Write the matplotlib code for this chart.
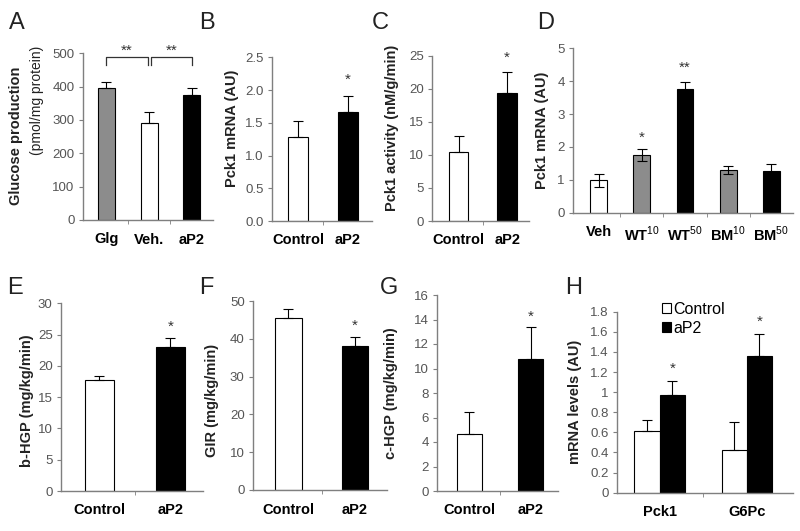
import numpy as np
import matplotlib
matplotlib.use('Agg')
import matplotlib.pyplot as plt

plt.rcParams['font.family'] = ['Liberation Sans', 'DejaVu Sans']
plt.rcParams['mathtext.fontset'] = 'custom'
plt.rcParams['mathtext.rm'] = 'Liberation Sans'
plt.rcParams['mathtext.bf'] = 'Liberation Sans:bold'

# ---- data ----
a_labels = ['Glg', 'Veh.', 'aP2']
a_vals = [395, 292, 376]
a_err = [20, 32, 21]

b_labels = ['Control', 'aP2']
b_vals = [1.28, 1.67]
b_err = [0.25, 0.24]

c_vals = [10.5, 19.3]
c_err = [2.4, 3.3]

d_labels = [r'$\mathbf{WT}^{10}$', r'$\mathbf{WT}^{50}$', r'$\mathbf{BM}^{10}$', r'$\mathbf{BM}^{50}$']
d_vals = [0.99, 1.75, 3.75, 1.30, 1.27]
d_err = [0.20, 0.19, 0.21, 0.13, 0.20]

e_vals = [17.7, 22.95]
e_err = [0.65, 1.45]

f_vals = [45.6, 38.1]
f_err = [2.2, 2.5]

g_vals = [4.65, 10.75]
g_err = [1.83, 2.6]

h_genes = ['Pck1', 'G6Pc']
h_control = [0.61, 0.42]
h_control_err = [0.11, 0.28]
h_ap2 = [0.97, 1.36]
h_ap2_err = [0.14, 0.22]

W, H = 800, 531
GRAY = '#8c8c8c'
AXC = '#7f7f7f'

fig = plt.figure(figsize=(8, 5.31), dpi=100)


def px_axes(left, right, top, bottom):
    return fig.add_axes([left / W, 1 - bottom / H, (right - left) / W, (bottom - top) / H])


def style(ax, ylim, yticks, ylabs, xlim, labels, xpos=None):
    n = len(labels)
    if xpos is None:
        xpos = np.arange(n)
    for s in ['top', 'right']:
        ax.spines[s].set_visible(False)
    for s in ['left', 'bottom']:
        ax.spines[s].set_color(AXC)
        ax.spines[s].set_linewidth(1)
    ax.set_ylim(ylim)
    ax.set_yticks(yticks)
    ax.set_yticklabels(ylabs)
    ax.set_xlim(xlim)
    ax.set_xticks(xpos)
    ax.set_xticklabels(labels, fontweight='bold', fontsize=10.5, color='black')
    ax.set_xticks(np.arange(n - 1) + 0.5, minor=True)
    ax.tick_params(axis='x', which='major', length=0, pad=9)
    ax.tick_params(axis='x', which='minor', length=3, direction='out', color=AXC)
    ax.tick_params(axis='y', length=3, direction='out', color=AXC, labelcolor='#555555',
                   labelsize=9.5, pad=3)


def bars(ax, x, vals, err, colors, width=0.4, both=False):
    ax.bar(x, vals, width=width, color=colors, edgecolor='black', linewidth=0.8, zorder=2)
    lower = err if both else np.zeros(len(err))
    ax.errorbar(x, vals, yerr=[lower, err], fmt='none', ecolor='black', elinewidth=0.8,
                capsize=3.5, capthick=0.8, zorder=3)


def star(ax, x, y, s='*'):
    ax.text(x, y, s, ha='center', va='center', fontsize=11, color='#333333', clip_on=False)


def ylab(x, y, s, weight='bold', size=10.5):
    fig.text(x / W, 1 - y / H, s, rotation=90, ha='center', va='center',
             fontsize=size, fontweight=weight, color='#222222')


def letter(x, y, s):
    fig.text(x / W, 1 - y / H, s, ha='left', va='baseline', fontsize=17, color='#222222')


# A
ax = px_axes(83, 213, 53.3, 220)
x = np.arange(3)
bars(ax, x, a_vals, a_err, [GRAY, 'white', 'black'])
style(ax, (0, 500), range(0, 501, 100), [str(v) for v in range(0, 501, 100)], (-0.55, 2.5), a_labels)
for x0, x1 in [(0, 0.97), (1.05, 2.0)]:
    ax.plot([x0, x0, x1, x1], [465, 489, 489, 465], color='#333333', lw=0.9, clip_on=False)
    star(ax, (x0 + x1) / 2, 509, '**')
ylab(16, 136, 'Glucose production')
ylab(37, 100, '(pmol/mg protein)', weight='normal', size=10)
letter(9, 29, 'A')

# B
ax = px_axes(272, 372, 57.3, 221)
x = np.arange(2)
bars(ax, x, b_vals, b_err, ['white', 'black'])
style(ax, (0, 2.5), np.arange(0, 2.51, 0.5), ['%.1f' % v for v in np.arange(0, 2.51, 0.5)],
      (-0.52, 1.48), b_labels)
star(ax, 1, 2.15)
ylab(232, 128, 'Pck1 mRNA (AU)')
letter(199, 29, 'B')

# C
ax = px_axes(432, 529, 55.7, 221)
bars(ax, x, c_vals, c_err, ['white', 'black'])
style(ax, (0, 25), range(0, 26, 5), [str(v) for v in range(0, 26, 5)], (-0.55, 1.45), b_labels)
star(ax, 1, 24.7)
ylab(392, 128, 'Pck1 activity (nM/g/min)')
letter(372, 29, 'C')

# D
ax = px_axes(573, 793, 48.3, 212.7)
x = np.arange(5)
bars(ax, x, d_vals, d_err, ['white', GRAY, 'black', GRAY, 'black'], width=0.39, both=True)
style(ax, (0, 5), range(0, 6), [str(v) for v in range(0, 6)], (-0.59, 4.5), ['Veh'] + d_labels)
star(ax, 1, 2.28)
star(ax, 2, 4.4, '**')
ylab(542, 130, 'Pck1 mRNA (AU)')
letter(537, 29, 'D')

# E
ax = px_axes(61, 203, 303.3, 491)
x = np.arange(2)
bars(ax, x, e_vals, e_err, ['white', 'black'], width=0.41)
style(ax, (0, 30), range(0, 31, 5), [str(v) for v in range(0, 31, 5)], (-0.54, 1.46), b_labels)
star(ax, 1, 26.2)
ylab(27, 401, 'b-HGP (mg/kg/min)')
letter(7, 294, 'E')

# F
ax = px_axes(253, 387, 301, 490)
bars(ax, x, f_vals, f_err, ['white', 'black'])
style(ax, (0, 50), range(0, 51, 10), [str(v) for v in range(0, 51, 10)], (-0.53, 1.48), b_labels)
star(ax, 1, 43.4)
ylab(212, 400, 'GIR (mg/kg/min)')
letter(199, 294, 'F')

# G
ax = px_axes(437, 558, 295, 491)
bars(ax, x, g_vals, g_err, ['white', 'black'])
style(ax, (0, 16), range(0, 17, 2), [str(v) for v in range(0, 17, 2)], (-0.53, 1.45), b_labels)
star(ax, 1, 14.2)
ylab(391, 393, 'c-HGP (mg/kg/min)')
letter(380, 294, 'G')

# H
ax = px_axes(617, 793, 311.7, 492.7)
x = np.arange(2)
w = 0.29
ax.bar(x - w / 2, h_control, width=w, color='white', edgecolor='black', linewidth=0.8,
       label='Control', zorder=2)
ax.bar(x + w / 2, h_ap2, width=w, color='black', edgecolor='black', linewidth=0.8,
       label='aP2', zorder=2)
ax.errorbar(x - w / 2, h_control, yerr=[np.zeros(2), h_control_err], fmt='none', ecolor='black',
            elinewidth=0.8, capsize=3.5, capthick=0.8, zorder=3)
ax.errorbar(x + w / 2, h_ap2, yerr=[np.zeros(2), h_ap2_err], fmt='none', ecolor='black',
            elinewidth=0.8, capsize=3.5, capthick=0.8, zorder=3)
hticks = np.arange(0, 1.81, 0.2)
style(ax, (0, 1.8), hticks, ['%g' % round(v, 1) for v in hticks], (-0.49, 1.53), h_genes)
for xi, v, e in zip(x, h_ap2, h_ap2_err):
    star(ax, xi + w / 2, v + e + 0.12)
ax.legend(loc='upper left', bbox_to_anchor=(0.22, 1.09), frameon=False, fontsize=11.5,
          handlelength=0.55, handleheight=0.55, handletextpad=0.15, labelspacing=0.25,
          borderaxespad=0)
ylab(575, 402, 'mRNA levels (AU)')
letter(565, 294, 'H')

fig.savefig('out.png', dpi=100)
